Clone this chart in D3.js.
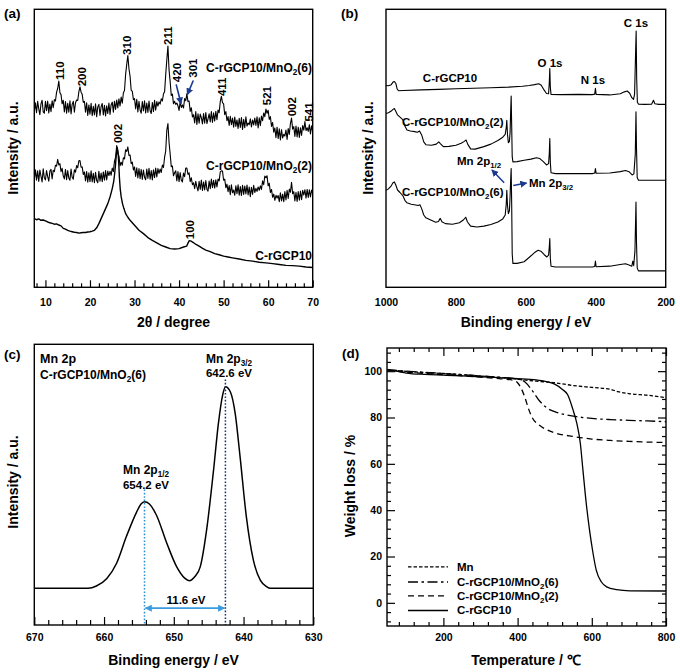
<!DOCTYPE html>
<html><head><meta charset="utf-8">
<script src="https://cdn.jsdelivr.net/npm/d3@7"></script>
<style>
body{margin:0;background:#fff}
text{font-family:"Liberation Sans",Arial,Helvetica,sans-serif;font-weight:bold;fill:#000}
</style>
</head><body>
<svg id="c" width="680" height="672"></svg>
<script>
// ---------------- DATA ----------------
// (a) XRD, 2θ / degree vs intensity (a.u.); segments = [start 2θ, values every 0.25°]
const xrdMnO2_6 = [
 [7.5,[63.0,66.4,62.8,66.9,64.2,62.1,66.0,67.3,63.1,62.6,66.9,63.5,67.0,62.7,65.9,63.2,67.1,64.6,67.5]],
 [12.25,[67.0,70.2,71.5,74.2,70.0,69.3,66.0,67.3]],
 [14.25,[63.1,66.8,62.6,66.2,63.0,67.1,62.4,65.8,66.9,63.0,66.4,67.4]],
 [17.25,[67.2,70.3,72.1,70.2,69.4,66.5,66.9]],
 [19.0,[63.0,66.4,61.8,65.6,62.3,66.2,61.7,65.1,62.0,66.0,61.4,64.9,65.8,61.8,65.0,66.1,62.0,65.5,61.6,65.3,62.5,66.3,62.2,65.7,66.6,63.0,66.9,64.0]],
 [26.0,[67.4,64.5,67.8,65.2,68.4,66.2,70.0,70.8,76.6,80.2,83.4,78.6,75.9,70.9,70.5,67.5,67.9]],
 [30.25,[64.2,67.6,63.1,66.9,63.8,62.6,66.8,63.4,67.1,62.7,66.3,62.9,67.0,63.5,62.5,66.5,63.2,67.3,63.7,66.8,65.2,66.7,65.9,67.8]],
 [36.25,[67.0,69.6,70.3,76.4,81.8,86.8,78.2,74.0,69.0,69.5,66.0,66.9,65.8,66.3,65.3,63.6,66.8,64.7,65.6,64.5,67.9,67.1,69.6,66.8,67.0,63.3,64.6,61.3]],
 [43.25,[62.1,59.1,63.2,58.6,62.4,59.0,62.3,61.0,58.8,62.5,59.0,62.9,58.9,60.6,62.4,59.5,63.2,59.3,62.8,59.8,63.3,60.3,63.8]],
 [49.0,[62.8,66.8,68.7,66.4,66.0,62.1,63.2,59.9]],
 [51.0,[61.4,58.2,61.5,58.5,60.9,57.6,61.2,57.9,60.2,57.1,60.8,57.5,61.1,56.8,60.4,57.4,61.3,58.0,59.1,58.5,60.6,57.7,60.2,58.4,60.9,58.2,61.3,57.3,61.0,58.1,61.6]],
 [58.75,[59.9,62.7,61.4,64.1,62.6,63.7,60.4,61.4,57.9,59.3]],
 [61.25,[55.8,57.3,53.8,57.6,53.5,57.0,53.0,56.7,53.7,55.0,54.4,56.6,53.2,57.1,55.0]],
 [65.0,[58.9,60.9,56.9,57.8]],
 [66.0,[54.3,58.0,54.1,57.6,53.9,57.4,54.6,58.2]],
 [68.0,[56.5,59.6,56.4]],
 [68.75,[57.4,56.1,58.5,55.2,58.1,56.0]]
];
const xrdMnO2_2 = [
 [7.5,[38.8,42.3,38.5,41.9,38.1,42.2,40.0,37.9,42.6,39.4,38.6,42.0,39.8,38.2,41.8,42.4,39.0,42.1,41.6]],
 [12.25,[43.9,43.6,46.0,44.0,44.5,41.6,42.8,40.0]],
 [14.25,[39.0,42.4,38.7,42.0,39.3,38.5,42.5,39.6,38.9,42.3,41.4,43.8]],
 [17.25,[43.0,45.5,45.6,43.2,43.3,40.6,41.5]],
 [19.0,[38.3,41.6,37.8,41.2,38.0,41.9,37.9,41.0,37.6,41.4,38.4,37.6,41.7,38.2,41.1,38.0,41.5,38.5,42.0,38.6,41.8,40.2]],
 [24.5,[41.7,40.3,42.9,41.6,45.3,46.8,51.0,48.0,47.2,43.7,45.0,43.9,46.6,46.2,49.5,48.9,50.5,47.4,47.6,44.5,45.0,42.2]],
 [30.0,[43.3,39.9,43.0,39.3,42.7,39.1,42.4,38.8,42.2,39.6,38.7,42.5,39.2,42.8,38.9,42.0,38.6,42.3,39.4,42.9,39.7,42.7,41.0,42.5,41.3]],
 [36.25,[44.0,43.1,46.8,49.0,56.5,58.9,52.2,48.0,43.4,43.6,40.1,41.2,41.9,38.3,41.6,38.0,41.3,38.5,37.9,41.1,39.8,42.9,42.9,40.6,41.2,38.0,39.4,36.9]],
 [43.25,[37.6,35.5,38.1,36.1,34.7,38.1,35.2,38.6,34.8,37.9,35.0,38.4,35.3,34.6,38.2,35.5,38.9,35.8,38.5,35.7,38.7,36.1,38.9,38.3,41.5,41.9,41.8,38.5,38.9,35.8,37.1]],
 [51.0,[34.4,36.6,33.3,36.9,34.0,35.0,33.1,36.5,33.7,36.9,33.1,36.2,33.0,36.7,33.4,36.4,33.6,36.8,33.2,36.1,32.6,36.0,33.4,36.7,34.1]],
 [57.25,[35.6,34.5,36.1,34.9,36.5,35.2,38.3,36.9,40.0,39.4,40.1,36.5,37.4,34.1,35.2]],
 [61.0,[32.4,33.5,31.3,33.1,32.1,33.0,30.8,34.0,31.1,33.5,30.8,34.4,31.4,34.9,32.0,35.3,34.2,37.8,33.7,34.4,31.1]],
 [66.25,[34.2,30.9,34.4,31.3,34.6,31.5,34.9,33.2,35.1,32.1,35.2,32.3,35.1,32.5,35.0,33.7]]
];
const xrdCrGCP10 = [[7.5,24.7],[8,24.3],[8.5,24.6],[9,24.1],[9.5,24.2],[10,23.9],[10.5,23.5],[11,23.2],[11.5,23.0],[12,22.7],[12.5,22.8],[13,22.4],[13.5,22.1],[14,21.2],[14.5,20.9],[15,20.5],[15.5,20.2],[16,20.0],[16.5,19.8],[17,19.7],[17.5,19.5],[18,19.6],[18.5,19.7],[19,19.7],[19.5,19.9],[20,20.0],[20.5,20.2],[21,20.5],[21.5,21.4],[22,22.9],[22.5,24.7],[23,26.5],[23.5,28.3],[24,30.1],[24.5,32.5],[25,35.5],[25.3,37.8],[25.5,40.3],[25.7,43.5],[25.9,47.5],[26.1,50.3],[26.3,48.8],[26.45,45.0],[26.6,39.7],[26.8,35.2],[27,32.6],[27.3,30.1],[27.6,28.4],[28,26.5],[28.5,25.2],[29,24.1],[29.5,23.2],[30,22.3],[31,20.5],[32,19.3],[33,17.9],[34,16.9],[35,16.0],[36,15.1],[37,14.5],[38,13.9],[39,13.8],[40,13.9],[41,14.5],[41.7,14.8],[42.0,15.9],[42.3,16.8],[42.7,16.6],[43.2,16.1],[43.8,15.4],[44.5,14.8],[45.2,14.1],[46,13.4],[47,12.8],[48,12.1],[49,11.7],[50,11.2],[51,10.9],[52,10.6],[53.5,10.2],[55,9.7],[56.5,9.4],[58,9.0],[59.5,8.8],[61,8.5],[62.5,8.2],[64,7.9],[65.5,7.8],[67,7.6],[68.5,7.3],[70,7.1]];
const xrdTicks = [10,20,30,40,50,60,70];
const xrdPeakLabels = ["110","200","310","211","420","301","411","521","002","541","002","100"];

// (b) XPS survey, binding energy / eV vs intensity (a.u.)
const xpsCrGCP10 = [[1000,72.6],[993,72.5],[985,72.9],[980,73.8],[976,74.0],[972,73.4],[968,71.3],[964,70.7],[950,70.8],[900,71.0],[850,71.2],[800,71.4],[750,71.6],[700,71.8],[650,72.0],[610,72.3],[590,72.6],[575,72.9],[563,73.2],[556,72.7],[548,71.0],[541,69.7],[535,69.6],[533,73.5],[531.5,78.7],[530,72.0],[528,69.4],[500,69.3],[450,69.4],[410,69.3],[403,69.5],[401,71.6],[399,69.4],[360,69.2],[330,69.6],[318,70.3],[310,70.6],[303,69.8],[297,68.2],[292,67.6],[289,69.5],[286,85],[284.5,92.2],[283,75],[281,66.6],[278,65.9],[260,65.8],[240,65.9],[235,67.3],[231,66.0],[220,65.8],[200,65.8]];
const xpsMnO2_2 = [[1000,62.5],[993,62.8],[985,63.4],[980,64.0],[976,64.3],[972,63.3],[967,62.0],[960,61.2],[952,60.3],[946,58.0],[940,56.6],[930,56.2],[918,56.0],[910,55.8],[904,56.2],[898,54.8],[892,52.3],[886,51.3],[870,51.1],[856,51.5],[849,52.3],[844,51.6],[836,50.6],[820,50.7],[800,51.1],[785,51.8],[776,52.5],[771,53.0],[766,51.4],[758,49.8],[745,49.7],[720,50.6],[700,51.5],[680,52.8],[666,54.0],[659,55.0],[656,57.5],[654.5,60.1],[652.5,55.0],[650,52.0],[647,52.5],[645,56.0],[643.5,63.0],[642,68.8],[640.5,58],[639,47],[637,45.1],[625,45.2],[605,45.7],[585,46.1],[570,46.6],[560,46.3],[550,45.2],[541,44.0],[535,44.5],[533,48],[531.5,53.5],[530,45],[528,41.2],[515,40.9],[480,40.9],[440,40.9],[410,40.9],[403,41.1],[401,42.7],[399,41.0],[360,41.1],[330,41.6],[315,42.0],[305,41.6],[296,40.4],[291,40.8],[287,48],[285,63.1],[283.5,50],[281.5,39.5],[278,38.5],[240,38.5],[200,38.5]];
const xpsMnO2_6 = [[1000,34.9],[993,35.4],[985,36.5],[980,37.6],[976,37.9],[972,36.8],[967,35.0],[960,34.1],[952,33.0],[946,31.3],[940,30.4],[928,29.9],[915,29.6],[908,29.4],[903,29.7],[898,28.3],[892,26.0],[886,25.0],[872,24.2],[858,23.4],[850,23.7],[845,24.8],[840,23.6],[830,22.9],[810,22.7],[790,23.2],[778,24.3],[772,25.2],[767,23.5],[758,22.0],[740,21.7],[720,22.0],[700,22.6],[680,23.5],[666,24.6],[659,26.0],[656,30.0],[654.5,34.9],[652.5,29.5],[650,26.5],[647,27.5],[645,33.0],[643.5,38.5],[642,42.7],[640.5,30],[639,12],[637,8.6],[625,8.6],[605,9.2],[590,10.8],[575,12.5],[565,13.3],[557,13.0],[548,11.8],[540,10.9],[535,11.6],[533,14.5],[531.5,17.5],[530,10.5],[528,7.6],[515,7.3],[480,7.3],[440,7.3],[410,7.3],[403,7.5],[401,9.4],[399,7.4],[360,7.6],[330,8.2],[315,8.5],[305,8.0],[297,7.6],[294,9.4],[291.5,7.8],[288,13],[285,30.7],[283.5,16],[281.5,7],[278,5.9],[240,5.9],[200,5.9]];
const xpsTicks = [1000,800,600,400,200];

// (c) Mn 2p, binding energy / eV vs intensity (a.u.)
const mn2p = [[670,13.1],[662.3,13.1],[661.1,13.9],[659.6,16.6],[658.2,22.0],[656.8,31.5],[655.3,40.4],[654.7,43.1],[654.2,43.9],[653.5,43.1],[652.5,39.2],[651.0,29.1],[649.6,20.8],[648.4,16.6],[647.8,15.8],[647.0,17.2],[646.2,20.8],[645.3,33.8],[644.3,55.2],[643.6,71.9],[643.0,81.9],[642.6,84.9],[641.9,83.1],[641.2,75.4],[640.5,60.0],[639.6,38.6],[638.6,23.2],[637.6,16.0],[636.7,13.7],[636.2,13.1],[630,13.1]];
const mn2pPeaks = [654.2, 642.6];
const mn2pTicks = [670,660,650,640,630];

// (d) TGA, temperature / °C vs weight loss / %
const tgaMn = [[48,100.6],[100,99.9],[150,99.4],[200,99.0],[250,98.5],[300,97.9],[350,97.3],[400,96.5],[450,95.7],[500,95.0],[550,93.8],[600,93.0],[650,92.2],[670,91.2],[700,90.3],[750,89.6],[800,88.6]];
const tgaMnO2_6 = [[48,100.6],[100,100.0],[150,99.5],[200,99.0],[250,98.5],[300,98.0],[350,97.4],[400,96.6],[420,95.3],[440,91.5],[460,87.0],[480,84.0],[500,82.5],[550,80.6],[600,79.6],[650,79.1],[700,78.8],[750,78.5],[800,78.2]];
const tgaMnO2_2 = [[48,100.6],[100,99.6],[150,99.0],[200,98.5],[250,98.0],[300,97.4],[350,96.8],[390,96.0],[400,95.0],[410,92.5],[420,88.5],[430,83.5],[440,79.8],[460,76.5],[480,74.6],[500,73.4],[550,71.8],[600,70.7],[650,70.1],[700,69.7],[750,69.4],[800,69.2]];
const tgaCrGCP10 = [[48,100.8],[80,99.8],[100,99.2],[150,98.6],[200,98.3],[250,98.0],[300,97.6],[350,97.2],[400,96.8],[450,96.2],[480,95.4],[500,94.4],[520,92.2],[535,89.8],[549,83.5],[560,77.2],[569,69.0],[576,57.5],[585,43.0],[594,31.3],[602,22.7],[612,14.1],[626,9.0],[640,6.9],[667,5.7],[703,5.2],[800,5.1]];
const tgaXTicks = [200,400,600,800];
const tgaYTicks = [0,20,40,60,80,100];
const tgaLegend = ["Mn","C-rGCP10/MnO2(6)","C-rGCP10/MnO2(2)","C-rGCP10"];

// ---------------- DRAW ----------------
const svg = d3.select("#c");
svg.append("rect").attr("width",680).attr("height",672).attr("fill","#fff");
const defs = svg.append("defs");
function marker(id,color,w){
  defs.append("marker").attr("id",id).attr("viewBox","0 0 10 10").attr("refX",9).attr("refY",5)
   .attr("markerWidth",w).attr("markerHeight",w).attr("markerUnits","userSpaceOnUse")
   .attr("orient","auto-start-reverse")
   .append("path").attr("d","M0,0L10,5L0,10z").attr("fill",color);
}
marker("navy","#1b3a8f",7); marker("lblue","#3a9be0",7);
const NAVY="#1b3a8f", LBLUE="#3a9be0";

function expand(segs){ const out=[]; segs.forEach(([s,vals])=>vals.forEach((v,i)=>out.push([s+i*0.25,v]))); return out; }

let clipN=0;
function panel(box,xd,yd){
  const x=d3.scaleLinear().domain(xd).range([box.l,box.r]);
  const y=d3.scaleLinear().domain(yd).range([box.b,box.t]);
  const id="clip"+(clipN++);
  defs.append("clipPath").attr("id",id).append("rect").attr("x",box.l).attr("y",box.t).attr("width",box.r-box.l).attr("height",box.b-box.t);
  const g=svg.append("g");
  const plot=g.append("g").attr("clip-path",`url(#${id})`);
  return {x,y,g,plot,box};
}
function frame(P){
  P.g.append("rect").attr("x",P.box.l).attr("y",P.box.t).attr("width",P.box.r-P.box.l).attr("height",P.box.b-P.box.t)
   .attr("fill","none").attr("stroke","#000").attr("stroke-width",1.4);
}
function tickMarks(P,side,vals,len){
  const sc=(side==="bottom"||side==="top")?P.x:P.y;
  const ax={bottom:d3.axisBottom,top:d3.axisTop,left:d3.axisLeft,right:d3.axisRight}[side](sc)
     .tickValues(vals).tickSize(-len).tickFormat("");
  const tr={bottom:`translate(0,${P.box.b})`,top:`translate(0,${P.box.t})`,left:`translate(${P.box.l},0)`,right:`translate(${P.box.r},0)`}[side];
  const g=P.g.append("g").attr("transform",tr).call(ax);
  g.select(".domain").remove();
  g.selectAll("line").attr("stroke","#000").attr("stroke-width",1.2);
}
function tickLabels(P,side,vals,pad,fmt){
  const sc=(side==="bottom")?P.x:P.y;
  const ax=(side==="bottom"?d3.axisBottom(sc):d3.axisLeft(sc)).tickValues(vals).tickSize(0).tickPadding(pad).tickFormat(fmt||d3.format("d"));
  const tr=side==="bottom"?`translate(0,${P.box.b})`:`translate(${P.box.l},0)`;
  const g=P.g.append("g").attr("transform",tr).call(ax);
  g.select(".domain").remove();
  g.attr("font-family",null).attr("font-size",null);
  g.selectAll("text").attr("font-size",10.5).style("font-weight","bold").attr("fill","#000");
}
// rich text: "_" toggles subscript segments, e.g. "MnO_2_(6)"
function rich(g,x,y,str,fs,anchor,rot){
  const t=g.append("text").attr("x",x).attr("y",y).attr("font-size",fs).attr("text-anchor",anchor||"start");
  if(rot){ t.attr("transform",`rotate(-90,${x},${y})`).attr("dy","0.35em"); }
  const parts=str.split("_");
  let shift=0;
  parts.forEach((p,i)=>{
    if(!p) return;
    const sub=i%2===1;
    const ts=t.append("tspan").text(p);
    if(sub){ ts.attr("font-size",fs*0.68).attr("dy",fs*0.28); shift=fs*0.28; }
    else if(shift){ ts.attr("dy",-shift); shift=0; }
  });
  return t;
}
function subName(s){ return s.replace("MnO2","MnO_2_"); }
function line(P,data,opts){
  const l=d3.line().x(d=>P.x(d[0])).y(d=>P.y(d[1]));
  if(opts.curve) l.curve(opts.curve);
  const sorted=data.slice().sort((a,b)=>P.x(a[0])-P.x(b[0]));
  P.plot.append("path").attr("d",l(sorted)).attr("fill","none").attr("stroke",opts.color||"#000")
   .attr("stroke-width",opts.w||1).attr("stroke-dasharray",opts.dash||null).attr("stroke-linejoin","round");
}

// ===== (a) =====
const A=panel({l:34.3,r:312.7,t:9.3,b:287.3},[7.5,70],[0,100]);
line(A,expand(xrdMnO2_6),{w:1.1});
line(A,expand(xrdMnO2_2),{w:1.1});
line(A,xrdCrGCP10,{w:1.4});
tickMarks(A,"bottom",d3.range(8,71,2).filter(v=>v%10!==0),4);
tickMarks(A,"bottom",xrdTicks,7);
tickLabels(A,"bottom",xrdTicks,11);
frame(A);
const aLab=[[13.2,74.6],[18.1,72.3],[28.4,83.6],[37.4,87.2],[39.6,73.8],[43.1,75.4],[49.7,68.8],[59.8,65.5],[65.4,61.5],[69.1,59.6],[26.2,51.9],[42.5,17.3]];
aLab.forEach((p,i)=>rich(A.g,A.x(p[0]),A.y(p[1]),xrdPeakLabels[i],11.5,"start",true));
A.g.append("line").attr("x1",A.x(39.35)).attr("y1",A.y(73.0)).attr("x2",A.x(40.45)).attr("y2",A.y(66.0)).attr("stroke",NAVY).attr("stroke-width",1.6).attr("marker-end","url(#navy)");
A.g.append("line").attr("x1",A.x(43.2)).attr("y1",A.y(74.4)).attr("x2",A.x(41.85)).attr("y2",A.y(69.3)).attr("stroke",NAVY).attr("stroke-width",1.6).attr("marker-end","url(#navy)");
rich(A.g,312,71.5,subName("C-rGCP10/MnO2(6)"),12,"end");
rich(A.g,312,169.5,subName("C-rGCP10/MnO2(2)"),12,"end");
rich(A.g,312,259.5,"C-rGCP10",12,"end");
A.g.append("text").attr("x",173.5).attr("y",327).attr("font-size",14).attr("text-anchor","middle").text("2θ / degree");
rich(A.g,13.5,148,"Intensity / a.u.",14,"middle",true);
svg.append("text").attr("x",4).attr("y",18).attr("font-size",13.5).text("(a)");

// ===== (b) =====
const B=panel({l:386,r:665.7,t:9.3,b:287.3},[1000,200],[0,100]);
line(B,xpsCrGCP10,{w:1.1});
line(B,xpsMnO2_2,{w:1.1});
line(B,xpsMnO2_6,{w:1.1});
tickLabels(B,"bottom",xpsTicks,11);
frame(B);
rich(B.g,450,82,"C-rGCP10",11.5,"middle");
rich(B.g,550,67,"O 1s",11.5,"middle");
rich(B.g,593,84,"N 1s",11.5,"middle");
rich(B.g,636,27,"C 1s",11.5,"middle");
rich(B.g,402,126,subName("C-rGCP10/MnO2(2)"),11.5,"start");
rich(B.g,402,196,subName("C-rGCP10/MnO2(6)"),11.5,"start");
rich(B.g,457,165,"Mn 2p_1/2_",11.5,"start");
rich(B.g,529,187,"Mn 2p_3/2_",11.5,"start");
B.g.append("line").attr("x1",B.x(662)).attr("y1",B.y(37.6)).attr("x2",B.x(697)).attr("y2",B.y(42.2)).attr("stroke",NAVY).attr("stroke-width",1.5).attr("marker-end","url(#navy)");
B.g.append("line").attr("x1",B.x(636)).attr("y1",B.y(36.6)).attr("x2",B.x(598)).attr("y2",B.y(37.5)).attr("stroke",NAVY).attr("stroke-width",1.5).attr("marker-end","url(#navy)");
B.g.append("text").attr("x",526).attr("y",327).attr("font-size",14).attr("text-anchor","middle").text("Binding energy / eV");
rich(B.g,368,148,"Intensity / a.u.",14,"middle",true);
svg.append("text").attr("x",341).attr("y",18).attr("font-size",13.5).text("(b)");

// ===== (c) =====
const C=panel({l:34.3,r:313.3,t:344.3,b:625},[670,630],[0,100]);
line(C,mn2p,{w:1.5,curve:d3.curveMonotoneX});
C.plot.append("line").attr("x1",C.x(mn2pPeaks[0])).attr("x2",C.x(mn2pPeaks[0])).attr("y1",C.y(48.3)).attr("y2",C.y(0))
 .attr("stroke","#2f8fcf").attr("stroke-width",1.5).attr("stroke-dasharray","1.6,1.8");
C.plot.append("line").attr("x1",C.x(mn2pPeaks[1])).attr("x2",C.x(mn2pPeaks[1])).attr("y1",C.y(87.5)).attr("y2",C.y(0))
 .attr("stroke","#1a2f6e").attr("stroke-width",1.5).attr("stroke-dasharray","1.6,1.8");
C.g.append("line").attr("x1",C.x(mn2pPeaks[0])+1).attr("x2",C.x(mn2pPeaks[1])-1).attr("y1",C.y(6.0)).attr("y2",C.y(6.0))
 .attr("stroke",LBLUE).attr("stroke-width",1.6).attr("marker-start","url(#lblue)").attr("marker-end","url(#lblue)");
tickMarks(C,"bottom",d3.range(632,669,2).filter(v=>v%10!==0),5);
tickMarks(C,"bottom",mn2pTicks,8);
tickLabels(C,"bottom",mn2pTicks,9);
frame(C);
rich(C.g,40,362.5,"Mn 2p",12.5,"start");
rich(C.g,40,379,subName("C-rGCP10/MnO2(6)"),12,"start");
rich(C.g,229,362.5,"Mn 2p_3/2_",12,"middle");
rich(C.g,229,377,"642.6 eV",11.5,"middle");
rich(C.g,146,474,"Mn 2p_1/2_",12,"middle");
rich(C.g,146,488.5,"654.2 eV",11.5,"middle");
rich(C.g,186,604,"11.6 eV",11.5,"middle");
C.g.append("text").attr("x",173.5).attr("y",665).attr("font-size",14).attr("text-anchor","middle").text("Binding energy / eV");
rich(C.g,13.5,482,"Intensity / a.u.",14,"middle",true);
svg.append("text").attr("x",4).attr("y",359).attr("font-size",13.5).text("(c)");

// ===== (d) =====
const D=panel({l:387,r:666,t:348,b:626},[48,800],[-10,110]);
const dashes=["3.5,2","10,3.5,2.5,3.5","6,4",null];
[tgaMn,tgaMnO2_6,tgaMnO2_2,tgaCrGCP10].forEach((s,i)=>line(D,s,{w:1.3,dash:dashes[i],curve:d3.curveMonotoneX}));
const xMinor=d3.range(80,801,40).filter(v=>v%200!==0), yMinor=d3.range(-8,109,4).filter(v=>v%20!==0);
["bottom","top"].forEach(s=>{tickMarks(D,s,xMinor,4);tickMarks(D,s,tgaXTicks,8);});
["left","right"].forEach(s=>{tickMarks(D,s,yMinor,4);tickMarks(D,s,tgaYTicks,8);});
tickLabels(D,"bottom",tgaXTicks,8);
tickLabels(D,"left",tgaYTicks,5);
frame(D);
const legY=[15.5,9.0,3.0,-3.3];
tgaLegend.forEach((name,i)=>{
  const yy=D.y(legY[i]);
  D.g.append("line").attr("x1",408).attr("x2",448).attr("y1",yy).attr("y2",yy).attr("stroke","#000").attr("stroke-width",1.3).attr("stroke-dasharray",dashes[i]);
  rich(D.g,457,yy+4,subName(name),11.5,"start");
});
D.g.append("text").attr("x",526).attr("y",665).attr("font-size",14).attr("text-anchor","middle").text("Temperature / ℃");
rich(D.g,350,486,"Weight loss / %",14,"middle",true);
svg.append("text").attr("x",342).attr("y",358).attr("font-size",13.5).text("(d)");
</script>
</body></html>
